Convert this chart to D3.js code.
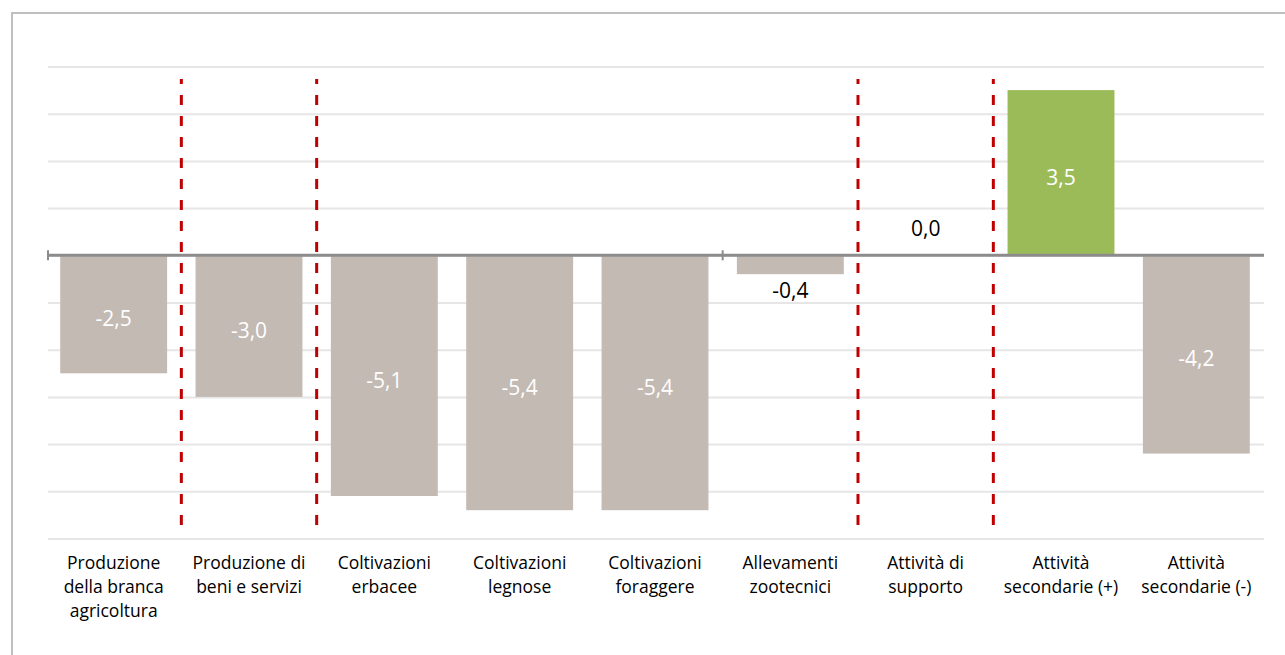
<!DOCTYPE html>
<html lang="it">
<head>
<meta charset="utf-8">
<title>Variazioni della produzione agricola</title>
<script src="https://cdn.jsdelivr.net/npm/d3@7"></script>
<style>
  html, body { margin: 0; padding: 0; background: #ffffff; }
  svg { display: block; }
  text { font-family: "Open Sans", "Noto Sans", sans-serif; }
</style>
</head>
<body>
<svg id="chart" width="1285" height="655"></svg>
<script>
// Categorie (una riga per ciascun a capo dell'etichetta)
const categories = [
  ["Produzione", "della branca", "agricoltura"],
  ["Produzione di", "beni e servizi"],
  ["Coltivazioni", "erbacee"],
  ["Coltivazioni", "legnose"],
  ["Coltivazioni", "foraggere"],
  ["Allevamenti", "zootecnici"],
  ["Attività di", "supporto"],
  ["Attività", "secondarie (+)"],
  ["Attività", "secondarie (-)"]
];
// Variazioni percentuali
const values = [-2.5, -3.0, -5.1, -5.4, -5.4, -0.4, 0.0, 3.5, -4.2];
// Separatori tratteggiati: dopo queste categorie
const dividersAfter = [0, 1, 5, 6];
// Griglia orizzontale
const gridTicks = [-6, -5, -4, -3, -2, -1, 0, 1, 2, 3, 4];
// Tacche sull'asse delle categorie (confini di banda)
const axisTicksAt = [0, 5];

const svg = d3.select("#chart");
// Formato italiano: virgola decimale e trattino semplice
const fmt = v => d3.format(".1f")(v).replace(".", ",").replace("\u2212", "-");

// Cornice esterna
svg.append("path")
  .attr("d", "M12,655 V13 H1285")
  .attr("fill", "none")
  .attr("stroke", "#bfbfbf")
  .attr("stroke-width", 2);

const x = d3.scaleBand()
  .domain(d3.range(categories.length))
  .range([46, 1264])
  .paddingInner(0.21)
  .paddingOuter(0.105);

const y = d3.scaleLinear()
  .domain([-6, 4])
  .range([538.5, 66.5]);

const gridLeft = 48, gridRight = 1264;

// Griglia
svg.append("g")
  .attr("transform", `translate(${gridLeft},0)`)
  .call(d3.axisLeft(y).tickValues(gridTicks).tickSize(-(gridRight - gridLeft)).tickFormat(""))
  .call(g => g.select(".domain").remove())
  .call(g => g.selectAll(".tick line").attr("stroke", "#e6e6e6").attr("stroke-width", 2));

// Barre
svg.append("g")
  .selectAll("rect")
  .data(values)
  .join("rect")
  .attr("x", (d, i) => x(i))
  .attr("width", x.bandwidth())
  .attr("y", d => y(Math.max(0, d)))
  .attr("height", d => Math.abs(y(d) - y(0)))
  .attr("fill", d => d > 0 ? "#9bbb59" : "#c3bab3");

// Separatori tratteggiati
const boundary = i => x(i) + x.bandwidth() + x.step() * x.paddingInner() / 2;
svg.append("g")
  .selectAll("line")
  .data(dividersAfter)
  .join("line")
  .attr("x1", d => boundary(d))
  .attr("x2", d => boundary(d))
  .attr("y1", 79)
  .attr("y2", 528)
  .attr("stroke", "#c00000")
  .attr("stroke-width", 3)
  .attr("stroke-dasharray", "10,11")
  .attr("stroke-dashoffset", 5);

// Asse dello zero
svg.append("line")
  .attr("x1", gridLeft).attr("x2", gridRight)
  .attr("y1", y(0)).attr("y2", y(0))
  .attr("stroke", "#8c8c8c")
  .attr("stroke-width", 3);

svg.append("g")
  .selectAll("line")
  .data(axisTicksAt)
  .join("line")
  .attr("x1", d => d === 0 ? gridLeft : boundary(d - 1))
  .attr("x2", d => d === 0 ? gridLeft : boundary(d - 1))
  .attr("y1", y(0) - 5)
  .attr("y2", y(0) + 5)
  .attr("stroke", "#8c8c8c")
  .attr("stroke-width", 2);

// Etichette dei valori
const inside = d => Math.abs(y(d) - y(0)) > 40;
svg.append("g")
  .selectAll("text")
  .data(values)
  .join("text")
  .attr("x", (d, i) => x(i) + x.bandwidth() / 2)
  .attr("y", d => {
    if (inside(d)) return (y(d) + y(0)) / 2 + 12;
    if (d < 0) return y(d) + 24;
    return y(0) - 19;
  })
  .attr("text-anchor", "middle")
  .attr("font-size", 21)
  .attr("fill", d => inside(d) ? "#ffffff" : "#000000")
  .text(d => fmt(d));

// Etichette delle categorie
const labels = svg.append("g")
  .selectAll("text")
  .data(categories)
  .join("text")
  .attr("x", (d, i) => x(i) + x.bandwidth() / 2)
  .attr("y", 569)
  .attr("text-anchor", "middle")
  .attr("font-size", 17.5)
  .attr("fill", "#000000");

labels.selectAll("tspan")
  .data(d => d)
  .join("tspan")
  .attr("x", function () { return d3.select(this.parentNode).attr("x"); })
  .attr("dy", (d, i) => i === 0 ? 0 : 24)
  .text(d => d);
</script>
</body>
</html>
